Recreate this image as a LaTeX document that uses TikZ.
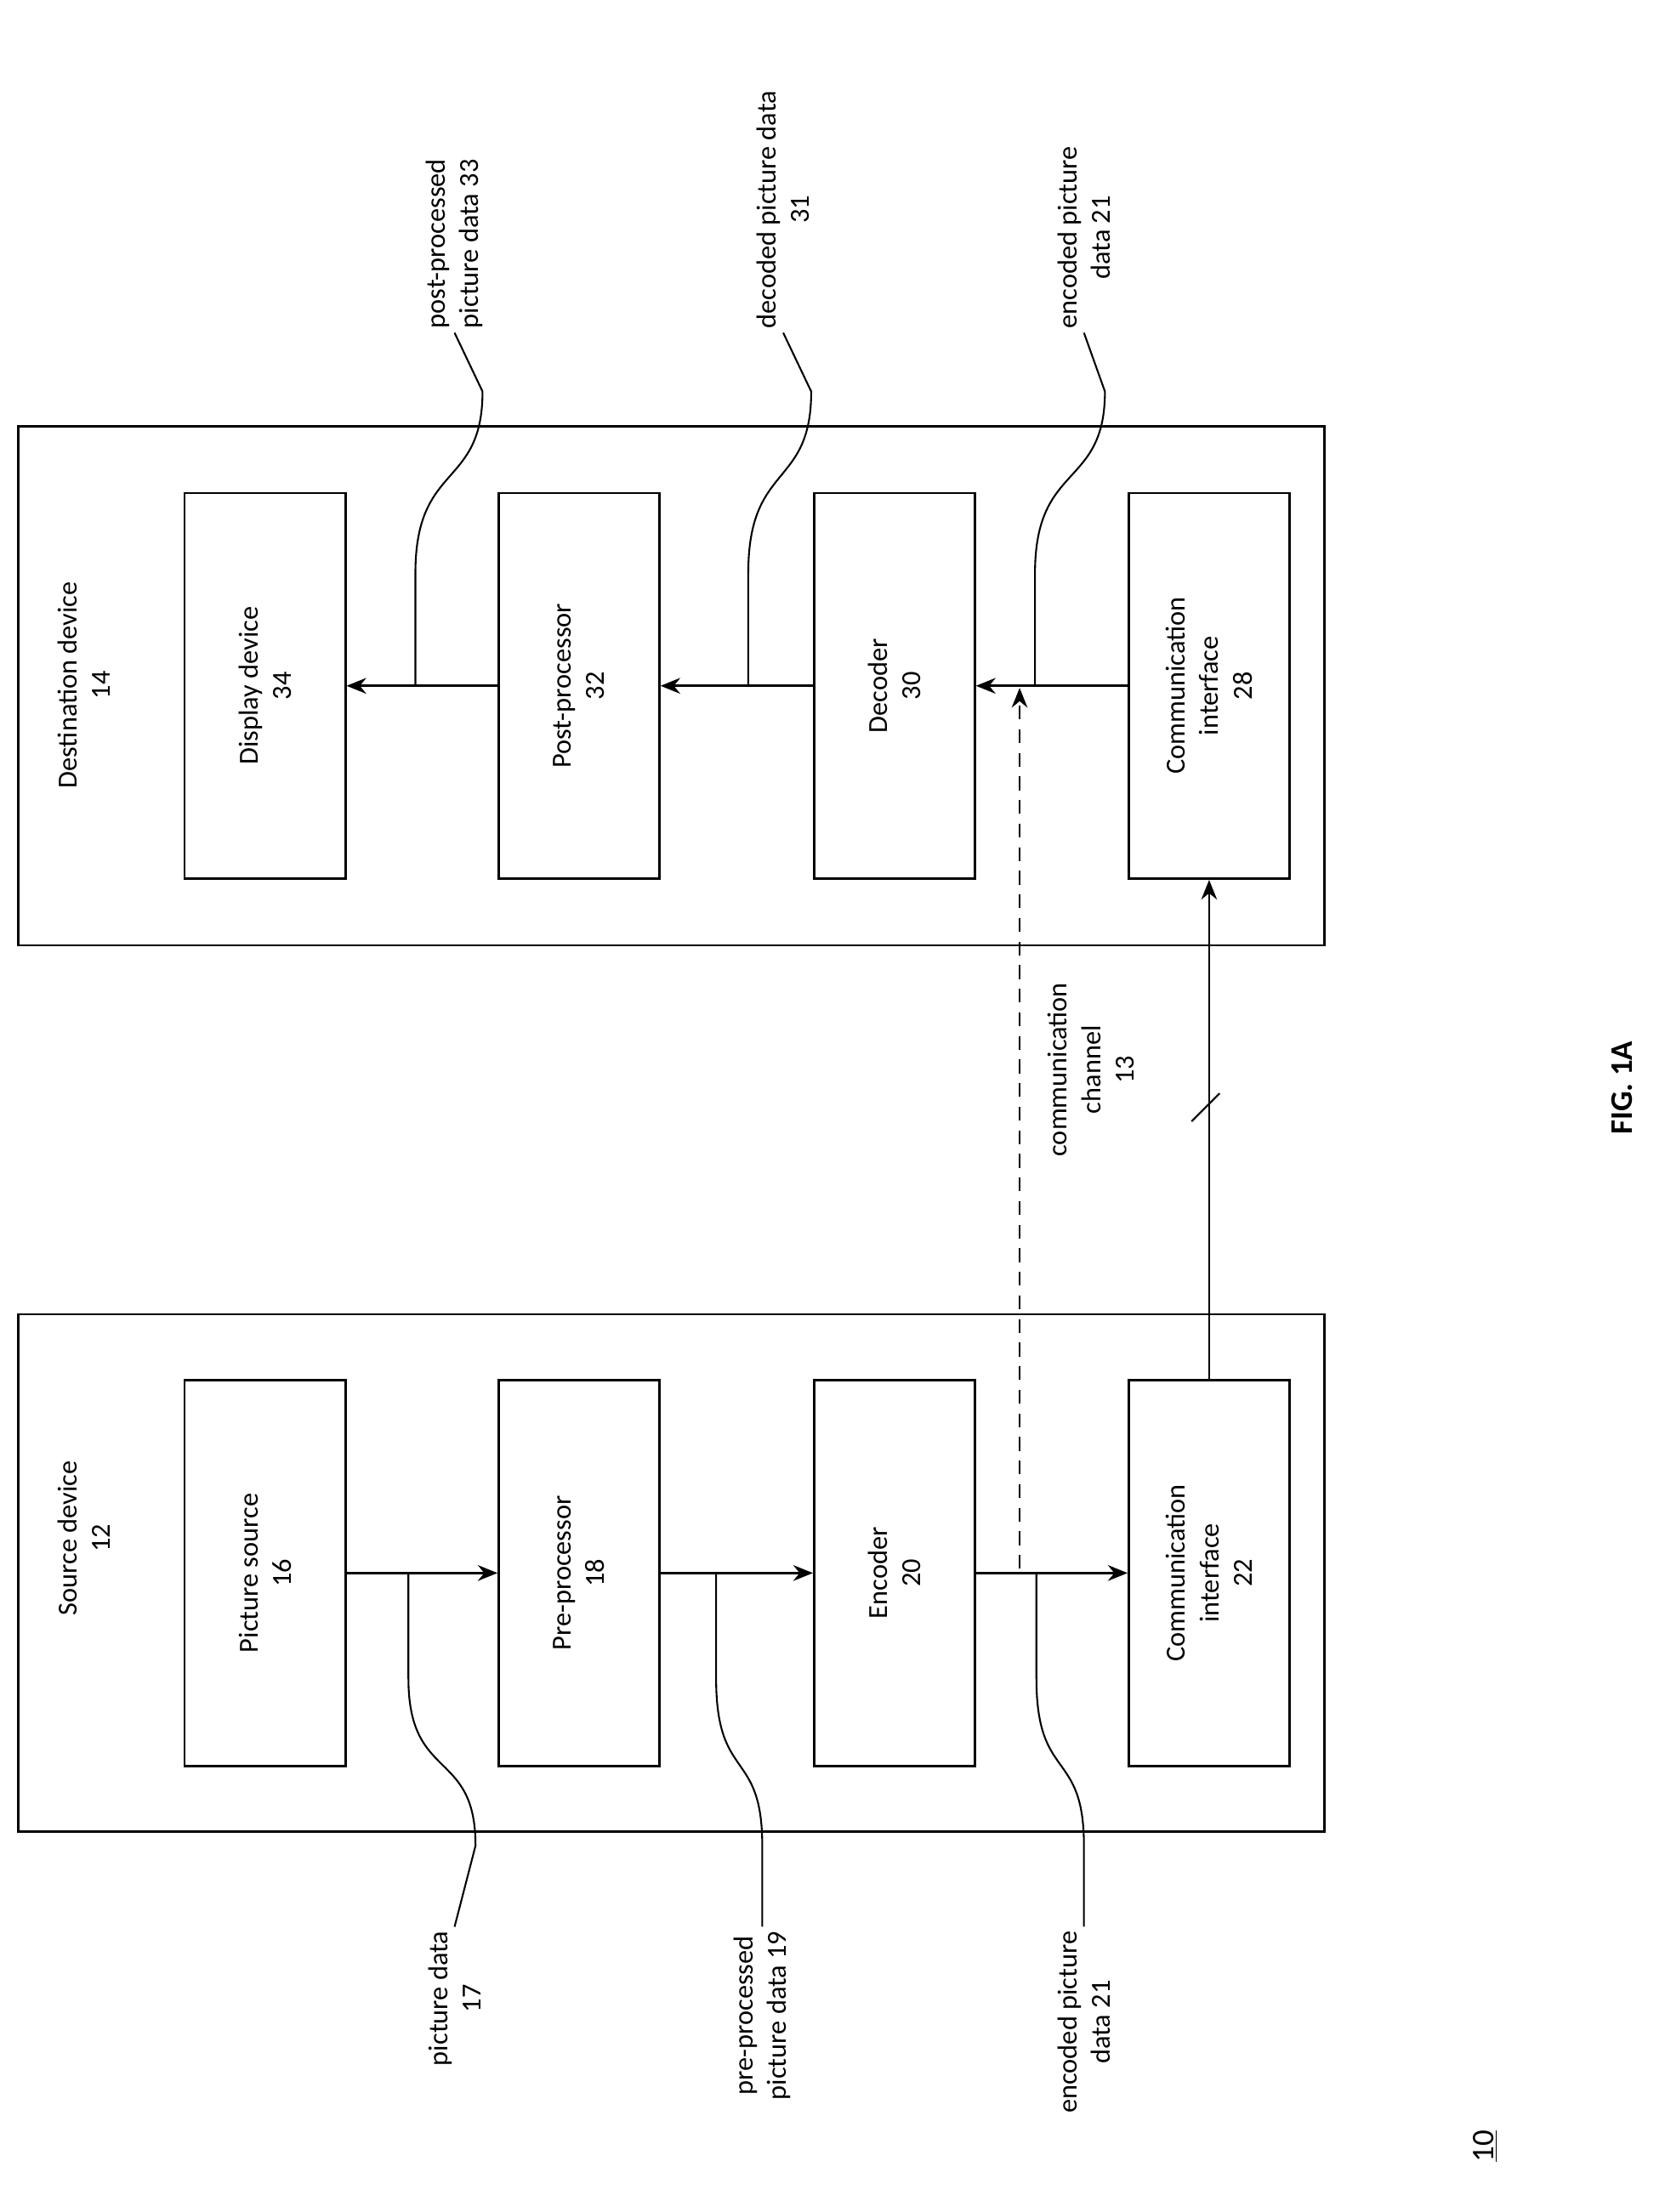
\documentclass[tikz,border=0pt]{standalone}
\usepackage{fontspec}
\setmainfont{Carlito}
\usetikzlibrary{arrows.meta}
\begin{document}
\begin{tikzpicture}[x=0.025cm,y=0.025cm,
  font=\fontsize{14}{17}\selectfont,
  box/.style={draw,line width=1.1pt},
  lbl/.style={rotate=90,align=center,inner sep=2pt},
  arr/.style={-{Stealth[length=10pt,width=8pt]},line width=1.2pt},
  call/.style={line width=0.9pt}]
\useasboundingbox (0,0) rectangle (1190,-1582);
% outer boxes
\node[box,minimum width=934*0.025cm,minimum height=370*0.025cm] (src) at (480,-1125) {};
\node[box,minimum width=934*0.025cm,minimum height=371*0.025cm] (dst) at (480,-490.5) {};
\node[lbl] (srcl) at (60,-1100) {Source device\\12};
\node[lbl] (dstl) at (60,-490) {Destination device\\14};
% inner boxes
\tikzset{inner/.style={box,minimum width=115*0.025cm,minimum height=276*0.025cm,inner sep=0pt}}
\node[inner] (b16) at (189.5,-1125) {};
\node[lbl] at (b16) {Picture source\\16};
\node[inner] (b18) at (414,-1125) {};
\node[lbl] at (b18) {Pre-processor\\18};
\node[inner] (b20) at (639.5,-1125) {};
\node[lbl] at (b20) {Encoder\\20};
\node[inner] (b22) at (864.5,-1125) {};
\node[lbl] at (b22) {Communication\\interface\\22};
\node[inner] (b34) at (189.5,-490.5) {};
\node[lbl] at (b34) {Display device\\34};
\node[inner] (b32) at (414,-490.5) {};
\node[lbl] at (b32) {Post-processor\\32};
\node[inner] (b30) at (639.5,-490.5) {};
\node[lbl] at (b30) {Decoder\\30};
\node[inner] (b28) at (864.5,-490.5) {};
\node[lbl] at (b28) {Communication\\interface\\28};
% arrows
\draw[arr] (b16) -- (b18);
\draw[arr] (b18) -- (b20);
\draw[arr] (b20) -- (b22);
\draw[arr] (b32) -- (b34);
\draw[arr] (b30) -- (b32);
\draw[arr] (b28) -- (b30);
\draw[arr] (b22.north) -- (b28.south);
\coordinate (ds) at (729,-1122);
\coordinate (de) at (729,-492);
\draw[arr,dash pattern=on 7pt off 5pt] (ds) -- (de);
% channel label
\node[lbl] (ch) at (780,-765) {communication\\channel\\13};
\coordinate (t1) at (852,-802);
\coordinate (t2) at (872,-782);
\draw[call] (t1) -- (t2);
% callouts bottom
\coordinate (c17) at (292,-1125);
\node[lbl,anchor=east] (l17) at (325,-1378) {picture data\\17};
\draw[call] (c17) -- (292,-1200) .. controls (292,-1275) and (340,-1250) .. (340,-1320) -- (l17.east);
\coordinate (c19) at (512,-1125);
\node[lbl,anchor=east] (l19) at (545,-1378) {pre-processed\\picture data 19};
\draw[call] (c19) -- (512,-1200) .. controls (512,-1275) and (545,-1250) .. (545,-1320) -- (l19.east);
\coordinate (c21) at (741,-1125);
\node[lbl,anchor=east] (l21) at (775,-1378) {encoded picture\\data 21};
\draw[call] (c21) -- (741,-1200) .. controls (741,-1275) and (775,-1250) .. (775,-1320) -- (l21.east);
% callouts top
\coordinate (c33) at (297,-490);
\node[lbl,anchor=west] (l33) at (325,-238) {post-processed\\picture data 33};
\draw[call] (c33) -- (297,-410) .. controls (297,-330) and (345,-350) .. (345,-280) -- (l33.west);
\coordinate (c31) at (535,-490);
\node[lbl,anchor=west] (l31) at (560,-238) {decoded picture data\\31};
\draw[call] (c31) -- (535,-410) .. controls (535,-330) and (580,-350) .. (580,-280) -- (l31.west);
\coordinate (c21b) at (740,-490);
\node[lbl,anchor=west] (l21b) at (775,-238) {encoded picture\\data 21};
\draw[call] (c21b) -- (740,-410) .. controls (740,-330) and (790,-350) .. (790,-280) -- (l21b.west);
% figure labels
\node[rotate=90,font=\fontsize{16}{19}\selectfont\bfseries] (fig) at (1160,-778) {FIG. 1A};
\node[rotate=90,font=\fontsize{16}{19}\selectfont] (ten) at (1062,-1535) {\underline{10}};
\end{tikzpicture}
\end{document}
